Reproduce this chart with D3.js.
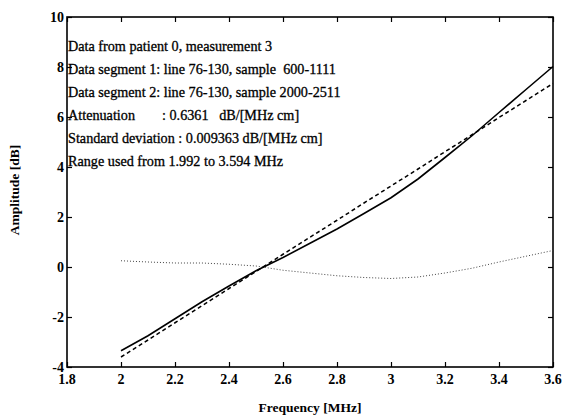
<!DOCTYPE html>
<html>
<head>
<meta charset="utf-8">
<script src="https://cdn.jsdelivr.net/npm/d3@7"></script>
<style>
	body { margin: 0; background: #fff; }
	svg text { font-family: "Liberation Serif", "Times New Roman", serif; fill: #000; }
	.tick-label { font-size: 14px; font-weight: bold; }
	.note { font-size: 14.2px; white-space: pre; stroke: #000; stroke-width: 0.3px; }
	.axis-title { font-size: 13.5px; font-weight: bold; }
</style>
</head>
<body>
<div id="chart"></div>
<script>
// frequency samples [MHz]
var freq = [2.0, 2.1, 2.2, 2.3, 2.4, 2.5, 2.6, 2.7, 2.8, 2.9, 3.0, 3.1, 3.2, 3.3, 3.4, 3.5, 3.6];
// measured amplitude ratio [dB]
var measured = [-3.35, -2.75, -2.07, -1.39, -0.76, -0.15, 0.38, 0.95, 1.52, 2.14, 2.77, 3.52, 4.38, 5.25, 6.18, 7.10, 8.02];
// linear fit [dB]
var fitted = [-3.60, -2.92, -2.23, -1.55, -0.86, -0.18, 0.51, 1.19, 1.87, 2.56, 3.24, 3.92, 4.61, 5.29, 5.98, 6.66, 7.34];
// residual [dB]
var residual = [0.25, 0.20, 0.16, 0.16, 0.11, 0.04, -0.13, -0.24, -0.35, -0.42, -0.46, -0.40, -0.24, -0.05, 0.20, 0.43, 0.66];

var xTicks = [1.8, 2, 2.2, 2.4, 2.6, 2.8, 3, 3.2, 3.4, 3.6];
var yTicks = [-4, -2, 0, 2, 4, 6, 8, 10];

var notes = [
	'Data from patient 0, measurement 3',
	'Data segment 1: line 76-130, sample  600-1111',
	'Data segment 2: line 76-130, sample 2000-2511',
	'Attenuation',
	'Standard deviation : 0.009363 dB/[MHz cm]',
	'Range used from 1.992 to 3.594 MHz'
];
var attenuationValue = ': 0.6361   dB/[MHz cm]';

(function () {
	var width = 563, height = 416;
	var pLeft = 67, pRight = 553, pTop = 17, pBottom = 367;

	var svg = d3.select('#chart').append('svg')
		.attr('width', width)
		.attr('height', height);

	var x = d3.scaleLinear().domain([1.8, 3.6]).range([pLeft, pRight]);
	var y = d3.scaleLinear().domain([-4, 10]).range([pBottom, pTop]);

	// inward ticks on all four sides
	var tickLen = 5;
	var ax = svg.append('g');
	ax.append('g').attr('transform', 'translate(0,' + pBottom + ')')
		.call(d3.axisBottom(x).tickValues(xTicks).tickSizeInner(-tickLen).tickSizeOuter(0).tickFormat(''));
	ax.append('g').attr('transform', 'translate(0,' + pTop + ')')
		.call(d3.axisTop(x).tickValues(xTicks).tickSizeInner(-tickLen).tickSizeOuter(0).tickFormat(''));
	ax.append('g').attr('transform', 'translate(' + pLeft + ',0)')
		.call(d3.axisLeft(y).tickValues(yTicks).tickSizeInner(-tickLen).tickSizeOuter(0).tickFormat(''));
	ax.append('g').attr('transform', 'translate(' + pRight + ',0)')
		.call(d3.axisRight(y).tickValues(yTicks).tickSizeInner(-tickLen).tickSizeOuter(0).tickFormat(''));
	ax.selectAll('.domain').remove();
	ax.selectAll('line').attr('stroke', '#000').attr('stroke-width', 1.2);

	svg.append('rect')
		.attr('x', pLeft).attr('y', pTop)
		.attr('width', pRight - pLeft).attr('height', pBottom - pTop)
		.attr('fill', 'none').attr('stroke', '#000').attr('stroke-width', 1.6);

	// tick labels
	svg.selectAll('.xlab').data(xTicks).enter().append('text')
		.attr('class', 'tick-label')
		.attr('x', function (d) { return x(d); })
		.attr('y', pBottom + 17)
		.attr('text-anchor', 'middle')
		.text(function (d) { return d; });

	svg.selectAll('.ylab').data(yTicks).enter().append('text')
		.attr('class', 'tick-label')
		.attr('x', pLeft - 3)
		.attr('y', function (d) { return y(d) + 5; })
		.attr('text-anchor', 'end')
		.text(function (d) { return d; });

	// axis titles
	svg.append('text').attr('class', 'axis-title')
		.attr('x', (pLeft + pRight) / 2).attr('y', 412)
		.attr('text-anchor', 'middle')
		.text('Frequency [MHz]');

	svg.append('text').attr('class', 'axis-title')
		.attr('transform', 'translate(19,' + ((pTop + pBottom) / 2 - 2) + ') rotate(-90)')
		.attr('text-anchor', 'middle')
		.text('Amplitude [dB]');

	// curves
	var line = function (vals) {
		return d3.line()
			.x(function (d, i) { return x(freq[i]); })
			.y(function (d) { return y(d); })(vals);
	};

	svg.append('path').attr('d', line(residual))
		.attr('fill', 'none').attr('stroke', '#444').attr('stroke-width', 1)
		.attr('stroke-dasharray', '1,2');
	svg.append('path').attr('d', line(fitted))
		.attr('fill', 'none').attr('stroke', '#000').attr('stroke-width', 1.5)
		.attr('stroke-dasharray', '4,3');
	svg.append('path').attr('d', line(measured))
		.attr('fill', 'none').attr('stroke', '#000').attr('stroke-width', 1.6);

	// annotation block
	var noteTop = 51, noteStep = 23;
	svg.selectAll('.note').data(notes).enter().append('text')
		.attr('class', 'note')
		.attr('x', pLeft + 1)
		.attr('y', function (d, i) { return noteTop + i * noteStep; })
		.text(function (d) { return d; });

	svg.append('text').attr('class', 'note')
		.attr('x', 162)
		.attr('y', noteTop + 3 * noteStep)
		.text(attenuationValue);
})();
</script>
</body>
</html>
